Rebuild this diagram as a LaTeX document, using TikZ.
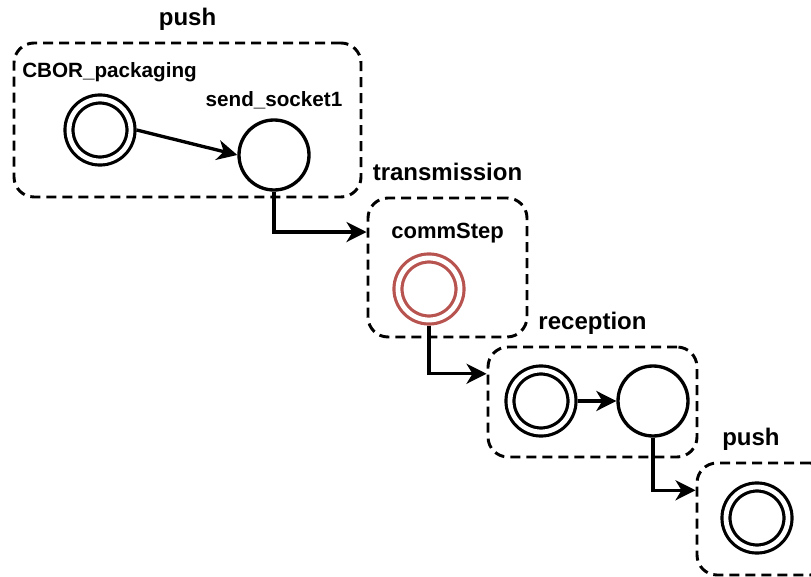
\documentclass[tikz,border=0pt]{standalone}
\usepackage{fontspec}
\setmainfont{Liberation Sans}
\usetikzlibrary{arrows.meta, positioning, calc}
\definecolor{StepRed}{HTML}{B85450}

\begin{document}
\begin{tikzpicture}[x=0.75pt, y=-0.75pt,
  group/.style={rectangle, rounded corners=15pt, draw=black, line width=2.2pt,
    dash pattern=on 7.5pt off 4.5pt, inner sep=0pt},
  state/.style={circle, draw=black, line width=2.5pt, minimum size=52.5pt, inner sep=0pt},
  final/.style={circle, draw=black, line width=2.4pt, double, double distance=3.6pt,
    minimum size=46.5pt, inner sep=0pt, outer sep=4.2pt},
  grouptitle/.style={font=\fontsize{18}{20}\selectfont\bfseries, inner sep=0pt,
    text height=13pt, text depth=4pt},
  statename/.style={font=\fontsize{15.5}{18}\selectfont\bfseries, inner sep=0pt},
  arrow/.style={-{Stealth[length=15pt, width=15pt, inset=4.5pt]}, line width=2.5pt}
]
\useasboundingbox (0,0) rectangle (811,577);

% groups
\node[group, minimum width=260.25pt, minimum height=115.5pt] (push1) at (187.5,120) {};
\node[group, minimum width=119.25pt, minimum height=104.25pt] (trans) at (447.5,267.5) {};
\node[group, minimum width=156.75pt, minimum height=82.5pt] (recep) at (592.5,402) {};
\node[group, minimum width=99.75pt, minimum height=84pt] (push2) at (763.5,519) {};

\node[grouptitle, above=8pt of push1] {push};
\node[grouptitle, above=8pt of trans] {transmission};
\node[grouptitle, above=8pt of recep] {reception};
\node[grouptitle, above=8pt of push2, xshift=-9.4pt] {push};

% states
\node[final] (cbor) at (100,130) {};
\node[state] (sock) at (274,155) {};
\node[final, draw=StepRed] (comm) at (429,289) {};
\node[final] (recin) at (541,401) {};
\node[state] (recout) at (653,401) {};
\node[final] (pushin) at (757,518) {};

\node[statename, anchor=west] (cborname) at (22,72) {CBOR\_packaging};
\node[statename, above=7pt of sock] (sockname) {send\_socket1};
\node[statename, font=\fontsize{16.5}{18}\selectfont\bfseries, above=7pt of comm,
  xshift=14pt] (commname) {commStep};

% transitions
\draw[arrow] (cbor.east) -- (sock.west);
\draw[arrow] (sock.south) |- ($(trans.north west)!0.25!(trans.south west)$);
\draw[arrow] (comm.south) |- ($(recep.north west)!0.25!(recep.south west)$);
\draw[arrow] (recin) -- (recout);
\draw[arrow] (recout.south) |- ($(push2.north west)!0.25!(push2.south west)$);
\end{tikzpicture}
\end{document}
